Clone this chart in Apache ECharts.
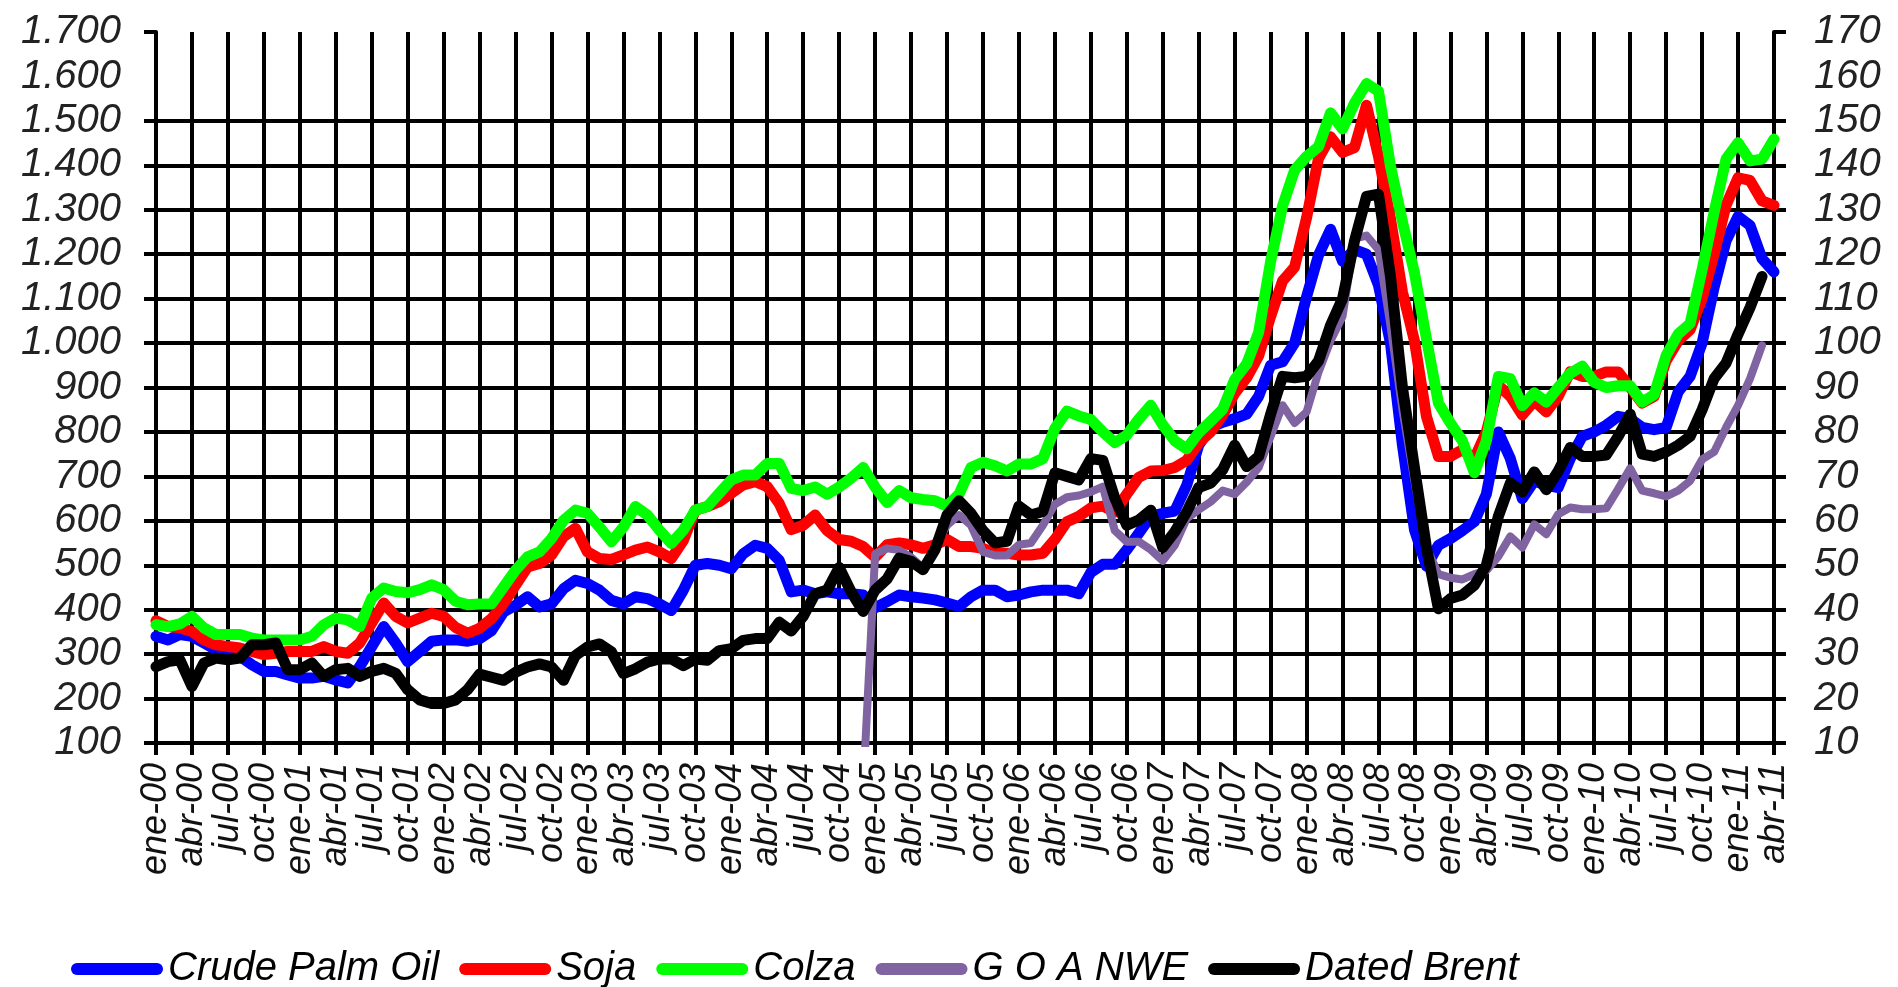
<!DOCTYPE html>
<html>
<head>
<meta charset="utf-8">
<script src="https://cdn.jsdelivr.net/npm/echarts@6/dist/echarts.min.js"></script>
<style>
html,body{margin:0;padding:0;background:#fff;}
#chart{width:1898px;height:987px;}
</style>
</head>
<body>
<div id="chart"></div>
<script>
const categories = [
"ene-00","feb-00","mar-00","abr-00","may-00","jun-00","jul-00","ago-00","sep-00","oct-00","nov-00","dic-00",
"ene-01","feb-01","mar-01","abr-01","may-01","jun-01","jul-01","ago-01","sep-01","oct-01","nov-01","dic-01",
"ene-02","feb-02","mar-02","abr-02","may-02","jun-02","jul-02","ago-02","sep-02","oct-02","nov-02","dic-02",
"ene-03","feb-03","mar-03","abr-03","may-03","jun-03","jul-03","ago-03","sep-03","oct-03","nov-03","dic-03",
"ene-04","feb-04","mar-04","abr-04","may-04","jun-04","jul-04","ago-04","sep-04","oct-04","nov-04","dic-04",
"ene-05","feb-05","mar-05","abr-05","may-05","jun-05","jul-05","ago-05","sep-05","oct-05","nov-05","dic-05",
"ene-06","feb-06","mar-06","abr-06","may-06","jun-06","jul-06","ago-06","sep-06","oct-06","nov-06","dic-06",
"ene-07","feb-07","mar-07","abr-07","may-07","jun-07","jul-07","ago-07","sep-07","oct-07","nov-07","dic-07",
"ene-08","feb-08","mar-08","abr-08","may-08","jun-08","jul-08","ago-08","sep-08","oct-08","nov-08","dic-08",
"ene-09","feb-09","mar-09","abr-09","may-09","jun-09","jul-09","ago-09","sep-09","oct-09","nov-09","dic-09",
"ene-10","feb-10","mar-10","abr-10","may-10","jun-10","jul-10","ago-10","sep-10","oct-10","nov-10","dic-10",
"ene-11","feb-11","mar-11","abr-11"
];

const seriesNames = ["Crude Palm Oil", "Soja", "Colza", "G O A NWE", "Dated Brent"];

const palmOil = [
340,332,344,340,325,310,306,295,276,261,261,253,
246,246,250,242,235,272,317,362,325,283,306,329,
332,332,329,335,353,395,410,429,406,413,447,466,
459,444,421,413,429,425,413,398,444,500,504,500,
492,526,545,538,511,440,444,436,440,436,436,433,
404,418,433,429,426,422,415,407,429,444,444,429,
433,440,444,444,444,436,484,502,502,535,572,610,
617,622,680,770,810,822,830,840,880,950,958,1000,
1104,1198,1256,1184,1210,1200,1130,1000,770,580,498,545,
560,578,598,660,800,740,650,690,680,675,740,790,
800,815,835,830,810,805,810,890,925,1000,1125,1230,
1285,1265,1190,1160
];

const soja = [
375,362,359,351,332,321,317,314,306,299,302,306,
306,306,317,306,302,325,370,415,385,370,381,392,
385,360,347,358,380,414,455,496,504,523,564,583,
530,515,513,523,534,541,530,515,556,624,632,643,
662,681,688,677,639,580,590,613,578,558,554,542,
518,546,550,546,538,546,558,542,542,538,527,527,
523,523,527,558,598,610,629,633,620,660,698,712,
713,720,736,776,800,838,887,922,971,1060,1140,1171,
1282,1416,1464,1429,1440,1535,1420,1280,1115,1005,835,745,
745,760,740,800,905,880,838,870,845,880,935,925,
925,935,935,900,865,880,960,1005,1030,1100,1200,1310,
1372,1366,1320,1310
];

const colza = [
366,362,368,385,359,344,344,344,336,332,332,332,
332,340,366,381,377,362,426,449,441,438,445,456,
445,419,411,413,413,451,489,519,530,560,601,624,
617,586,553,586,632,613,579,549,579,624,632,662,
692,703,703,729,729,673,668,676,660,676,696,720,
676,641,668,652,648,645,633,660,720,732,724,712,
728,728,740,808,847,836,828,800,776,793,829,860,
816,780,762,798,824,851,918,953,1024,1184,1309,1389,
1420,1442,1518,1482,1540,1584,1567,1398,1273,1158,1010,865,
820,780,708,780,925,920,859,888,867,900,932,948,
912,900,904,904,867,884,972,1020,1044,1165,1294,1414,
1451,1410,1414,1459
];

const goaNwe = [
null,null,null,null,null,null,null,null,null,null,null,null,
null,null,null,null,null,null,null,null,null,null,null,null,
null,null,null,null,null,null,null,null,null,null,null,null,
null,null,null,null,null,null,null,null,null,null,null,null,
null,null,null,null,null,null,null,null,null,null,null,0,
525,538,534,518,494,542,590,613,590,530,522,522,
546,550,590,637,653,657,665,677,578,553,553,535,
510,545,605,625,643,668,660,687,720,790,860,820,
845,935,1005,1060,1235,1242,1210,1040,850,690,540,480,
472,468,480,488,520,565,540,592,570,615,630,626,
626,628,672,718,668,662,655,668,690,738,755,810,
860,920,995,null
];

const datedBrent = [
27.2,28.3,28.7,22.7,28.0,29.1,28.7,29.1,32.1,32.1,32.5,26.5,
26.5,28.0,25.0,26.5,26.8,25.0,26.1,26.8,25.7,22.0,19.7,18.9,
18.9,19.7,22.0,25.5,24.8,24.1,25.9,27.1,27.8,27.1,24.1,29.7,
31.6,32.3,30.5,25.6,26.7,28.2,28.9,28.9,27.4,28.9,28.6,30.8,
31.2,33.1,33.5,33.5,37.2,35.2,38.5,43.6,44.4,49.5,44.0,39.6,
44.4,46.9,51.6,50.9,49.0,53.5,61.3,64.5,61.7,57.8,55.0,55.4,
63.3,61.3,62.1,70.8,70.0,69.2,74.0,73.6,65.1,59.0,60.2,62.4,
54.0,57.5,62.0,67.5,68.5,71.5,77.0,72.2,74.5,84.0,92.5,92.2,
92.5,96.0,104.0,110.0,123.0,133.0,133.5,115.0,90.0,72.0,54.0,40.2,
42.5,43.3,45.5,50.0,61.0,68.5,66.5,71.0,67.0,71.2,76.5,74.5,
74.5,74.8,79.0,84.0,75.0,74.5,75.5,77.0,79.0,85.0,92.0,95.5,
102.0,108.0,115.0,null
];

const leftTicks = [100,200,300,400,500,600,700,800,900,1000,1100,1200,1300,1400,1500,1700];
const rightTicks = [10,20,30,40,50,60,70,80,90,100,110,120,130,140,150,170];

const seriesColors = ["#0000FF", "#FF0000", "#00FF00", "#8064A2", "#000000"];

const FONT = "'Liberation Sans', Arial, sans-serif";

function thousands(v) {
  if (v >= 1000) {
    const t = Math.floor(v / 1000);
    const r = String(v % 1000).padStart(3, '0');
    return t + '.' + r;
  }
  return String(v);
}

// split line colours for 100..1700: the 1600 line is absent in the reference
const hSplitColors = ['#000','#000','#000','#000','#000','#000','#000','#000','#000',
  '#000','#000','#000','#000','#000','#000','rgba(0,0,0,0)','#000'];

const chart = echarts.init(document.getElementById('chart'), null, {renderer: 'canvas'});

const pill = 'path://M6,0 L86,0 A6,6 0 0 1 86,12 L6,12 A6,6 0 0 1 6,0 Z';

const lineSeries = (name, data, color, width, axisIdx) => ({
  name: name,
  type: 'line',
  data: data,
  yAxisIndex: axisIdx,
  showSymbol: false,
  symbol: 'none',
  clip: true,
  connectNulls: false,
  animation: false,
  lineStyle: {color: color, width: width, cap: 'round', join: 'round'},
  itemStyle: {color: color}
});

chart.setOption({
  backgroundColor: '#ffffff',
  animation: false,
  grid: {left: 156, right: 124, top: 32, bottom: 244, containLabel: false},
  legend: {
    data: seriesNames,
    left: 66,
    top: 944,
    icon: pill,
    itemWidth: 92,
    itemHeight: 12,
    itemGap: 20,
    textStyle: {fontFamily: FONT, fontStyle: 'italic', fontSize: 40, color: '#000'}
  },
  xAxis: {
    type: 'category',
    data: categories,
    boundaryGap: false,
    axisLine: {show: true, lineStyle: {color: '#000', width: 4}},
    axisTick: {show: true, interval: 2, length: 12, lineStyle: {color: '#000', width: 4}},
    splitLine: {show: true, interval: 2, lineStyle: {color: '#000', width: 4}},
    axisLabel: {
      interval: 2,
      rotate: 90,
      margin: 20,
      fontFamily: FONT,
      fontStyle: 'italic',
      fontSize: 36,
      color: '#111'
    }
  },
  yAxis: [
    {
      type: 'value',
      position: 'left',
      min: 100,
      max: 1700,
      interval: 100,
      axisLine: {show: true, lineStyle: {color: '#000', width: 4}},
      axisTick: {show: true, length: 12, customValues: leftTicks, lineStyle: {color: '#000', width: 4}},
      splitLine: {show: true, lineStyle: {color: hSplitColors, width: 4}},
      axisLabel: {
        margin: 35,
        fontFamily: FONT,
        fontStyle: 'italic',
        fontSize: 40,
        color: '#222',
        formatter: thousands
      }
    },
    {
      type: 'value',
      position: 'right',
      min: 10,
      max: 170,
      interval: 10,
      axisLine: {show: true, lineStyle: {color: '#000', width: 4}},
      axisTick: {show: true, length: 12, customValues: rightTicks, lineStyle: {color: '#000', width: 4}},
      splitLine: {show: false},
      axisLabel: {
        margin: 40,
        fontFamily: FONT,
        fontStyle: 'italic',
        fontSize: 40,
        color: '#222'
      }
    }
  ],
  series: [
    lineSeries(seriesNames[0], palmOil, seriesColors[0], 11, 0),
    lineSeries(seriesNames[1], soja, seriesColors[1], 11, 0),
    lineSeries(seriesNames[2], colza, seriesColors[2], 11, 0),
    lineSeries(seriesNames[3], goaNwe, seriesColors[3], 8, 0),
    lineSeries(seriesNames[4], datedBrent, seriesColors[4], 11, 1)
  ]
});
</script>
</body>
</html>
